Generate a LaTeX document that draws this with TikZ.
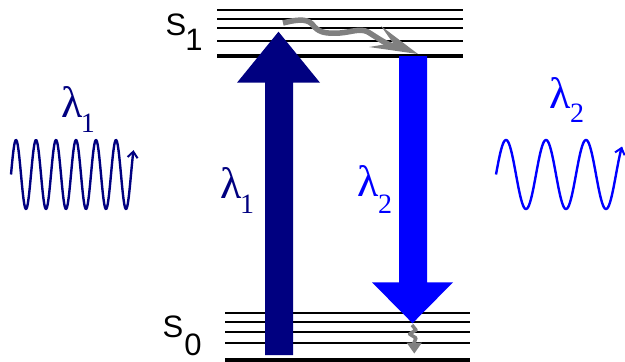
\documentclass[tikz,border=0pt]{standalone}
\usepackage{fontspec}
\setmainfont{Liberation Serif}
\setsansfont{Liberation Sans}
\usetikzlibrary{arrows.meta}
\definecolor{navy}{RGB}{0,0,128}
\definecolor{pureblue}{RGB}{0,0,255}
\definecolor{relaxgray}{RGB}{128,128,128}
\tikzset{
  thinlevel/.style={line width=2pt,black},
  thicklevel/.style={line width=4pt,black},
  statelbl/.style={anchor=base,inner sep=0pt,font=\sffamily\fontsize{31}{31}\selectfont},
  lam/.style={anchor=base,inner sep=0pt,font=\fontsize{44}{44}\selectfont},
  lamsub/.style={anchor=base,inner sep=0pt,font=\fontsize{28}{28}\selectfont},
  wave/.style={line width=2.4pt,line join=round,-{Straight Barb[length=6pt,width=10pt,line width=2pt]}},
  relax/.style={line width=5.5pt,relaxgray,line join=round}
}
\begin{document}
\begin{tikzpicture}[x=1pt,y=-1pt]
\useasboundingbox (0,0) rectangle (625,362);
% S1 levels
\foreach \yy in {9.5,18.5,28.3,40.5} \draw[thinlevel] (217,\yy) -- (463,\yy);
\draw[thicklevel] (217,55.5) -- (463,55.5);
% S0 levels
\foreach \yy in {312.7,321.7,331.7,343.3} \draw[thinlevel] (225,\yy) -- (470,\yy);
\draw[thicklevel] (225,359.5) -- (470,359.5);
% state labels
\node[statelbl] (s1) at (176,35.5) {S};
\node[statelbl] (s1i) at (194,50) {1};
\node[statelbl] (s0) at (173,337.5) {S};
\node[statelbl] (s0i) at (193,355) {0};
% absorption arrow
\coordinate (upbase) at (279,355);
\coordinate (uptip) at (278.5,31.7);
\fill[navy] (265,355) -- (293,355) -- (293,82.7) -- (320,82.7) -- (uptip) -- (237,82.7) -- (265,82.7) -- cycle;
% emission arrow
\coordinate (dntop) at (413,56);
\coordinate (dntip) at (412.5,323.3);
\fill[pureblue] (399,56) -- (427,56) -- (427,282.3) -- (453,282.3) -- (dntip) -- (372,282.3) -- (399,282.3) -- cycle;
% vibrational relaxation in S1
\coordinate (r1a) at (283,23);
\coordinate (r1b) at (400,48);
\draw[relax] (r1a) .. controls (295,20) and (306,18) .. (312,24)
  .. controls (318,32) and (324,34) .. (340,33)
  .. controls (352,32) and (360,28) .. (368,32)
  .. controls (378,38) and (388,46) .. (r1b);
\fill[relaxgray] (418,54) -- (381,26) -- (393,43) -- (369,47) -- cycle;
% vibrational relaxation in S0
\coordinate (r0a) at (412,325);
\draw[line width=3.5pt,relaxgray,line join=round] (r0a) -- (416,330) -- (409.5,334) -- (416,338) -- (413.5,344);
\fill[relaxgray] (406.5,342.5) -- (422,342.5) -- (414.3,353.5) -- cycle;
% photons
\draw[navy,wave] plot[domain=11:133.5,samples=300] (\x,{174.5-34.5*sin(18*(\x-11))});
\draw[pureblue,wave] plot[domain=496:622,samples=300] (\x,{174.5-34.5*sin(9*(\x-496))});
% lambda labels
\node[lam,navy] (l1o) at (72,117) {λ};
\node[lamsub,navy] (l1os) at (88,132) {1};
\node[lam,pureblue] (l2o) at (560,108) {λ};
\node[lamsub,pureblue] (l2os) at (577,122) {2};
\node[lam,navy] (l1i) at (231,198) {λ};
\node[lamsub,navy] (l1is) at (247,213) {1};
\node[lam,pureblue] (l2i) at (368,196) {λ};
\node[lamsub,pureblue] (l2is) at (385,213) {2};
\end{tikzpicture}
\end{document}
